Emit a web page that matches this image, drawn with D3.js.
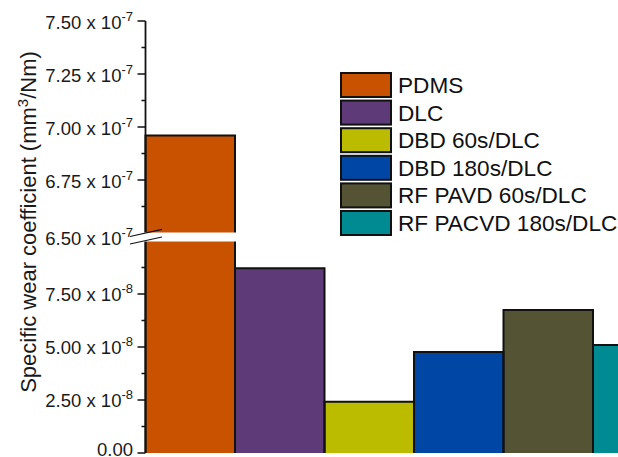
<!DOCTYPE html>
<html>
<head>
<meta charset="utf-8">
<script src="https://cdn.jsdelivr.net/npm/d3@7"></script>
<style>
  html, body { margin: 0; padding: 0; background: #fff; }
  svg { display: block; font-family: "Liberation Sans", Arial, sans-serif; }
</style>
</head>
<body>
<svg id="chart" width="618" height="457"></svg>
<script>
const categories = ["PDMS", "DLC", "DBD 60s/DLC", "DBD 180s/DLC", "RF PAVD 60s/DLC", "RF PACVD 180s/DLC"];
const values = [6.96e-7, 8.71e-8, 2.42e-8, 4.76e-8, 6.75e-8, 5.09e-8];
const colors = ["#C85200", "#5F3A78", "#BBBB00", "#0046A5", "#545434", "#008A91"];
const upperTicks = [6.75e-7, 7.0e-7, 7.25e-7, 7.5e-7];
const upperMinor = [6.625e-7, 6.875e-7, 7.125e-7, 7.375e-7];
const lowerTicks = [0, 2.5e-8, 5.0e-8, 7.5e-8];
const lowerMinor = [1.25e-8, 3.75e-8, 6.25e-8, 8.75e-8];
const breakLabel = { value: 6.5e-7, mantissa: "6.50", exponent: "-7" };
const yTitle = "Specific wear coefficient (mm";
const yTitleSup = "3";
const yTitleEnd = "/Nm)";

const svg = d3.select("#chart");
const axisX = 145.5;
const lowerY = d3.scaleLinear().domain([0, 1e-7]).range([453, 241]);
const upperY = d3.scaleLinear().domain([6.5e-7, 7.5e-7]).range([233, 21]);
const x = d3.scaleBand().domain(categories).range([axisX, axisX + 6 * 89.5]).padding(0);

const yOf = v => v >= 6.5e-7 ? upperY(v) : lowerY(v);

// bars
const bars = svg.append("g");
categories.forEach((c, i) => {
  const x0 = x(c), x1 = x(c) + x.bandwidth();
  const yt = yOf(values[i]), yb = lowerY(0);
  bars.append("rect").attr("x", x0).attr("y", yt).attr("width", x1 - x0).attr("height", yb - yt)
    .attr("fill", colors[i]);
});
categories.forEach((c, i) => {
  const x0 = x(c), x1 = x(c) + x.bandwidth();
  const yt = yOf(values[i]), yb = lowerY(0);
  const p = d3.path();
  p.moveTo(x0, yb); p.lineTo(x0, yt); p.lineTo(x1, yt); p.lineTo(x1, yb);
  bars.append("path").attr("d", p.toString()).attr("fill", "none").attr("stroke", "#111").attr("stroke-width", 2);
});

// axis lines
const ax = svg.append("g").attr("stroke", "#111").attr("stroke-width", 1.8);
ax.append("line").attr("x1", axisX).attr("x2", axisX).attr("y1", upperY(7.5e-7)).attr("y2", upperY(6.5e-7));
ax.append("line").attr("x1", axisX).attr("x2", axisX).attr("y1", lowerY(1e-7)).attr("y2", lowerY(0));

// break gap
svg.append("rect").attr("x", 139).attr("y", upperY(6.5e-7) - 0.5)
  .attr("width", x(categories[0]) + x.bandwidth() + 2 - 139)
  .attr("height", lowerY(1e-7) - upperY(6.5e-7) + 1).attr("fill", "#fff");
const br = svg.append("g").attr("stroke", "#111").attr("stroke-width", 1.2);
br.append("line").attr("x1", 130).attr("y1", 236.5).attr("x2", 162).attr("y2", 229.3);
br.append("line").attr("x1", 130).attr("y1", 244).attr("x2", 162).attr("y2", 237);

// ticks
const tk = svg.append("g").attr("stroke", "#111").attr("stroke-width", 1.5);
upperTicks.forEach(v => tk.append("line").attr("x1", axisX - 8).attr("x2", axisX).attr("y1", upperY(v)).attr("y2", upperY(v)));
lowerTicks.forEach(v => tk.append("line").attr("x1", axisX - 8).attr("x2", axisX).attr("y1", lowerY(v)).attr("y2", lowerY(v)));
upperMinor.forEach(v => tk.append("line").attr("x1", axisX - 4).attr("x2", axisX).attr("y1", upperY(v)).attr("y2", upperY(v)));
lowerMinor.forEach(v => tk.append("line").attr("x1", axisX - 4).attr("x2", axisX).attr("y1", lowerY(v)).attr("y2", lowerY(v)));

function tickLabel(y, mant, exp) {
  const t = svg.append("text").attr("x", 133).attr("y", Math.min(y + 7.5, 456))
    .attr("text-anchor", "end").attr("font-size", 18.5).attr("fill", "#1a1a1a");
  if (exp) {
    t.append("tspan").text(mant + " x 10");
    t.append("tspan").attr("font-size", 13).attr("dy", -7.5).text(exp);
  } else {
    t.append("tspan").text(mant);
  }
}
upperTicks.forEach(v => tickLabel(upperY(v), (v / 1e-7).toFixed(2), "-7"));
lowerTicks.forEach(v => tickLabel(lowerY(v) - 1, v === 0 ? "0.00" : (v / 1e-8).toFixed(2), v === 0 ? null : "-8"));
tickLabel((upperY(breakLabel.value) + lowerY(1e-7)) / 2, breakLabel.mantissa, breakLabel.exponent);

// y title
const title = svg.append("text").attr("transform", "translate(36,222) rotate(-90)")
  .attr("text-anchor", "middle").attr("font-size", 22).attr("fill", "#1a1a1a");
title.append("tspan").text(yTitle);
title.append("tspan").attr("font-size", 15).attr("dy", -8).text(yTitleSup);
title.append("tspan").attr("dy", 8).text(yTitleEnd);

// legend
const lg = svg.append("g");
categories.forEach((c, i) => {
  const y0 = 73 + i * 27.6;
  lg.append("rect").attr("x", 341).attr("y", y0).attr("width", 50).attr("height", 24)
    .attr("fill", colors[i]).attr("stroke", "#111").attr("stroke-width", 2);
  lg.append("text").attr("x", 398).attr("y", y0 + 12 + 8).attr("font-size", 22.6)
    .attr("fill", "#111").text(c);
});
</script>
</body>
</html>
